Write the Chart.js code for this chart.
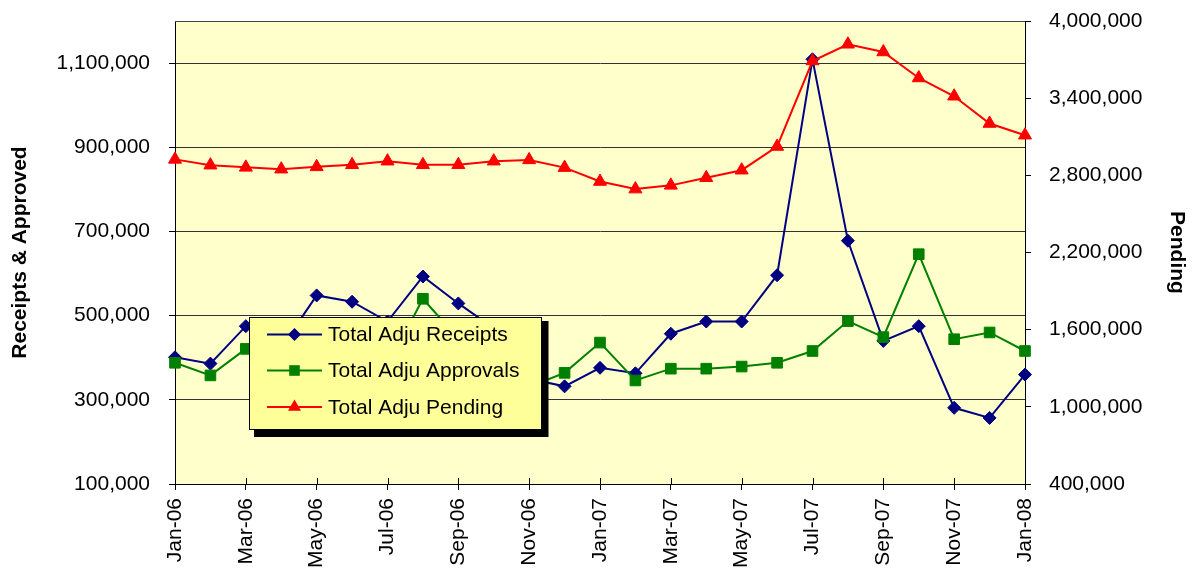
<!DOCTYPE html>
<html>
<head>
<meta charset="utf-8">
<script src="https://cdn.jsdelivr.net/npm/chart.js@4.4.1/dist/chart.umd.min.js"></script>
<style>
html,body{margin:0;padding:0;background:#fff;}
#wrap{width:1192px;height:571px;position:relative;}
canvas{display:block;}
</style>
</head>
<body>
<div id="wrap"><canvas id="c" width="1192" height="571"></canvas></div>
<script>
// ---- data ----
const months = ['Jan-06','Feb-06','Mar-06','Apr-06','May-06','Jun-06','Jul-06','Aug-06','Sep-06','Oct-06','Nov-06','Dec-06',
                'Jan-07','Feb-07','Mar-07','Apr-07','May-07','Jun-07','Jul-07','Aug-07','Sep-07','Oct-07','Nov-07','Dec-07','Jan-08'];
const receipts  = [401000, 386000, 475000, 424000, 548000, 533000, 486000, 593000, 529000, 470000, 350000, 332000,
                   376000, 363000, 457000, 486000, 486000, 596000, 1109000, 678000, 440000, 475000, 281000, 257000, 360000];
const approvals = [388000, 358000, 421000, 410000, 430000, 420000, 380000, 540000, 445000, 390000, 331000, 364000,
                   436000, 346000, 374000, 374000, 379000, 388000, 416000, 487000, 449000, 646000, 444000, 460000, 416000];
const pending   = [2924000, 2879000, 2862000, 2848000, 2866000, 2882000, 2910000, 2882000, 2882000, 2910000, 2920000, 2860000,
                   2752000, 2693000, 2722000, 2781000, 2840000, 3024000, 3689000, 3819000, 3759000, 3557000, 3415000, 3203000, 3112000];
const seriesNames = ['Total Adju Receipts', 'Total Adju Approvals', 'Total Adju Pending'];
const leftTicks  = [100000, 300000, 500000, 700000, 900000, 1100000];
const leftMax    = 1200000;
const rightTicks = [400000, 1000000, 1600000, 2200000, 2800000, 3400000, 4000000];

const FONT = '"Liberation Sans", Arial, sans-serif';
Chart.defaults.font.family = FONT;
Chart.defaults.color = '#000';

const fmt = v => Number(v).toLocaleString('en-US');

function drawMarker(ctx, style, r, x, y) {
  ctx.beginPath();
  if (style === 'rectRot') {
    ctx.moveTo(x - r, y); ctx.lineTo(x, y - r); ctx.lineTo(x + r, y); ctx.lineTo(x, y + r);
  } else if (style === 'rect') {
    const s = Math.SQRT1_2 * r;
    ctx.rect(x - s, y - s, 2 * s, 2 * s);
  } else {
    for (let k = 0; k < 3; k++) {
      const a = k * 2 * Math.PI / 3;
      const px = x + Math.sin(a) * r, py = y - Math.cos(a) * r;
      if (k === 0) ctx.moveTo(px, py); else ctx.lineTo(px, py);
    }
  }
  ctx.closePath();
  ctx.fill();
}

const plotArea = {
  id: 'plotArea',
  beforeDraw(chart) {
    const {ctx, chartArea: a} = chart;
    ctx.save();
    ctx.fillStyle = '#FFFFCC';
    ctx.fillRect(a.left, a.top, a.right - a.left, a.bottom - a.top);
    ctx.restore();
  },
  beforeDatasetsDraw(chart) {
    const {ctx, chartArea: a} = chart;
    const x = chart.scales.x;
    ctx.save();
    ctx.strokeStyle = '#444';
    ctx.lineWidth = 1;
    ctx.beginPath();
    ctx.moveTo(a.left, Math.round(a.top) + 0.5);
    ctx.lineTo(a.right, Math.round(a.top) + 0.5);
    ctx.stroke();
    ctx.strokeStyle = '#000';
    ctx.beginPath();
    x.ticks.forEach((t, i) => {
      if (i % 2 === 0) {
        const px = Math.round(x.getPixelForTick(i)) + 0.5;
        ctx.moveTo(px, a.bottom - 6);
        ctx.lineTo(px, a.bottom);
      }
    });
    ctx.stroke();
    ctx.restore();
  }
};

const boxLegend = {
  id: 'boxLegend',
  afterDatasetsDraw(chart) {
    const ctx = chart.ctx;
    const L = {x: 249.5, y: 317.5, w: 292, h: 112, rows: [334.5, 370.5, 407], x0: 267, x1: 322, tx: 328};
    ctx.save();
    ctx.fillStyle = '#000';
    ctx.fillRect(254, 321, 294.5, 116);
    ctx.fillStyle = '#FFFF99';
    ctx.fillRect(L.x, L.y, L.w, L.h);
    ctx.strokeStyle = '#000';
    ctx.lineWidth = 1;
    ctx.strokeRect(L.x, L.y, L.w, L.h);
    chart.data.datasets.forEach((ds, i) => {
      const y = L.rows[i];
      ctx.strokeStyle = ds.borderColor;
      ctx.lineWidth = ds.borderWidth;
      ctx.beginPath();
      ctx.moveTo(L.x0, y); ctx.lineTo(L.x1, y);
      ctx.stroke();
      ctx.fillStyle = ds.pointBackgroundColor;
      drawMarker(ctx, ds.pointStyle, ds.pointRadius, (L.x0 + L.x1) / 2, y);
      ctx.fillStyle = '#000';
      ctx.font = '21px ' + FONT;
      ctx.textBaseline = 'middle';
      ctx.textAlign = 'left';
      ctx.fillText(ds.label, L.tx, y + 1);
    });
    ctx.restore();
  }
};

const mk = (label, data, color, style, r, axis, order) => ({
  label, data, yAxisID: axis, order,
  borderColor: color, backgroundColor: color,
  pointBackgroundColor: color, pointBorderColor: color,
  pointStyle: style, pointRadius: r, pointHoverRadius: r, pointBorderWidth: 1,
  borderWidth: 2, tension: 0, fill: false, clip: false
});

new Chart(document.getElementById('c'), {
  type: 'line',
  data: {
    labels: months,
    datasets: [
      mk(seriesNames[0], receipts, '#000080', 'rectRot', 6.5, 'y', 3),
      mk(seriesNames[1], approvals, '#008000', 'rect', 7.5, 'y', 2),
      mk(seriesNames[2], pending, '#FF0000', 'triangle', 7.5, 'y2', 1)
    ]
  },
  options: {
    responsive: false,
    animation: false,
    devicePixelRatio: 1,
    events: [],
    layout: {padding: {top: 21, left: 0, right: 0, bottom: 0}},
    plugins: {legend: {display: false}, tooltip: {enabled: false}},
    scales: {
      x: {
        type: 'category',
        offset: false,
        grid: {
          display: true, drawOnChartArea: false, drawTicks: true, tickLength: 6,
          tickColor: c => (c.index % 2 === 0 ? '#000' : 'rgba(0,0,0,0)')
        },
        border: {display: true, color: '#000', width: 1},
        ticks: {
          autoSkip: false, minRotation: 90, maxRotation: 90, padding: 8,
          font: {size: 21}, color: '#000',
          callback: (v, i) => (i % 2 === 0 ? months[i] : '')
        },
        afterFit: s => { s.height = 87; s.paddingLeft = 0; s.paddingRight = 0; }
      },
      y: {
        position: 'left',
        bounds: 'data',
        min: leftTicks[0], max: leftMax,
        grid: {color: '#333', lineWidth: 1, tickLength: 6, tickColor: '#000'},
        border: {display: true, color: '#000', width: 1},
        ticks: {padding: 19, font: {size: 21}, color: '#000', callback: v => fmt(v)},
        afterBuildTicks: s => { s.ticks = leftTicks.map(v => ({value: v})); },
        title: {display: true, text: 'Receipts & Approved', font: {size: 21, weight: 'bold'}, color: '#000', padding: {top: 8, bottom: 0}},
        afterFit: s => { s.width = 175; s.paddingTop = 0; s.paddingBottom = 0; }
      },
      y2: {
        position: 'right',
        bounds: 'data',
        min: rightTicks[0], max: rightTicks[rightTicks.length - 1],
        grid: {display: true, drawOnChartArea: false, tickLength: 6, tickColor: '#000'},
        border: {display: true, color: '#000', width: 1},
        ticks: {padding: 18, font: {size: 21}, color: '#000', callback: v => fmt(v)},
        afterBuildTicks: s => { s.ticks = rightTicks.map(v => ({value: v})); },
        title: {display: true, text: 'Pending', font: {size: 21, weight: 'bold'}, color: '#000', padding: {top: 3, bottom: 0}},
        afterFit: s => { s.width = 167; s.paddingTop = 0; s.paddingBottom = 0; }
      }
    }
  },
  plugins: [plotArea, boxLegend]
});
</script>
</body>
</html>
